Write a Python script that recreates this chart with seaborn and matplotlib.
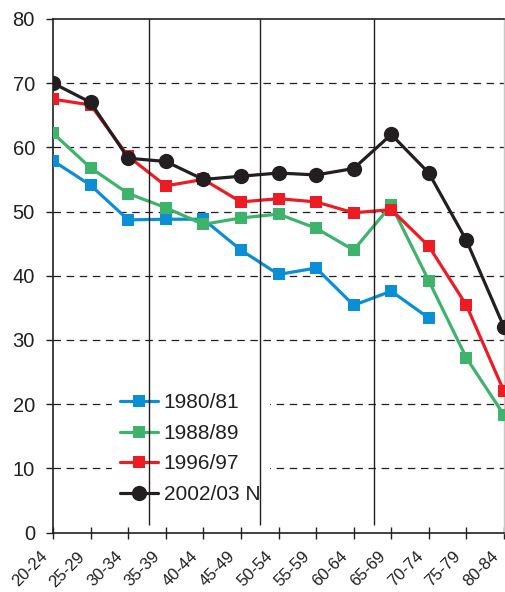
import numpy as np
import pandas as pd
import matplotlib
matplotlib.use("Agg")
import matplotlib.pyplot as plt
import seaborn as sns

categories = ["20-24", "25-29", "30-34", "35-39", "40-44", "45-49", "50-54",
              "55-59", "60-64", "65-69", "70-74", "75-79", "80-84"]
s1980 = [57.9, 54.1, 48.7, 48.8, 48.8, 44.0, 40.2, 41.2, 35.4, 37.6, 33.4, np.nan, np.nan]
s1988 = [62.2, 56.8, 52.8, 50.6, 48.0, 49.0, 49.6, 47.4, 44.0, 51.0, 39.2, 27.2, 18.3]
s1996 = [67.5, 66.6, 58.6, 54.0, 55.0, 51.5, 52.0, 51.5, 49.8, 50.3, 44.6, 35.4, 22.0]
s2002 = [70.0, 67.0, 58.3, 57.8, 55.0, 55.5, 56.0, 55.7, 56.7, 62.0, 56.0, 45.5, 32.0]
series_names = ["1980/81", "1988/89", "1996/97", "2002/03 N"]
y_ticks = [0, 10, 20, 30, 40, 50, 60, 70, 80]

sns.set_theme(style="white")
plt.rcParams["font.family"] = ["Liberation Sans", "DejaVu Sans"]

colors = ["#0a8fd6", "#3db36c", "#ed1c24", "#231f20"]
markers = ["s", "s", "s", "o"]
msizes = [8, 8, 8, 11]

fig = plt.figure(figsize=(5.05, 5.92), dpi=100)
ax = fig.add_axes([0.105, 0.1005, 0.893, 0.8675])

for name, vals, c, m, ms in zip(series_names, [s1980, s1988, s1996, s2002], colors, markers, msizes):
    df = pd.DataFrame({"x": np.arange(len(categories)), "y": vals}).dropna()
    sns.lineplot(data=df, x="x", y="y", ax=ax, color=c, marker=m, markersize=ms,
                 markeredgewidth=0, linewidth=2.3, label=name, zorder=3)

ax.set_xlim(0, len(categories) - 1)
ax.set_ylim(0, 80)
ax.set_xticks(np.arange(len(categories)))
ax.set_xticklabels([])
for i, cat in enumerate(categories):
    ax.annotate(cat, xy=(i, 0), xycoords=("data", "axes fraction"),
                xytext=(-6, -15.5), textcoords="offset points",
                rotation=45, ha="right", va="center", rotation_mode="anchor",
                fontsize=12, color="#231f20", annotation_clip=False)
ax.set_yticks(y_ticks)
ax.set_yticklabels([str(v) for v in y_ticks], fontsize=14.5, color="#231f20")
ax.set_xlabel("")
ax.set_ylabel("")

for yv in y_ticks[1:-1]:
    ax.axhline(yv, color="#231f20", linestyle=(0, (6, 4.5)), linewidth=0.9, zorder=1)

for xv in [2.55, 5.52, 8.55]:
    ax.vlines(xv, 1.1, 80, color="#231f20", linewidth=1.0, zorder=6)

for side in ["left", "bottom", "top"]:
    ax.spines[side].set_color("#231f20")
    ax.spines[side].set_linewidth(1.2)
ax.spines["right"].set_color("#c8c8c8")
ax.spines["right"].set_linewidth(1.0)

ax.tick_params(axis="x", direction="inout", length=9, width=1, color="#231f20", bottom=True)
ax.tick_params(axis="y", direction="out", length=5, width=1, color="#231f20", pad=8, left=True)

leg = ax.legend(loc="upper left", bbox_to_anchor=(0.1305, 0.287), borderaxespad=0,
                frameon=True, fancybox=False,
                facecolor="white", edgecolor="white", framealpha=1, fontsize=15,
                handlelength=1.83, handletextpad=0.25, labelspacing=0.55, borderpad=0.4)
for t in leg.get_texts():
    t.set_color("#231f20")

fig.savefig("out.png", dpi=100)
